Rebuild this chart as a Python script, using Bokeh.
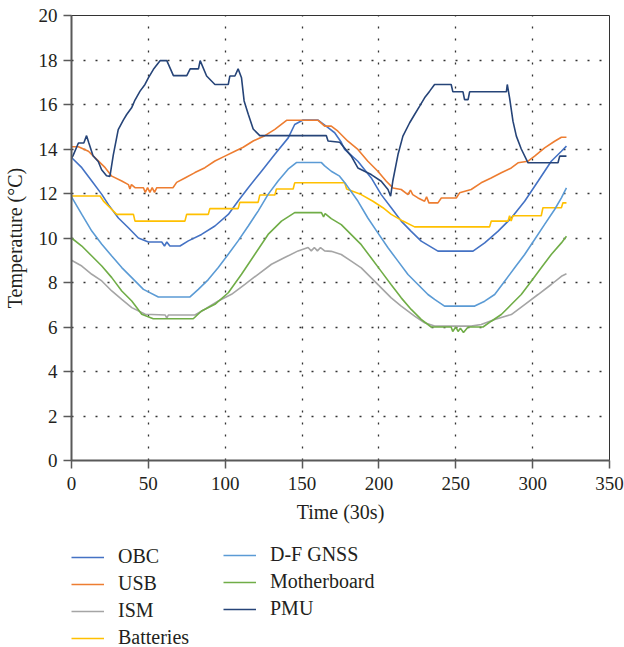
from bokeh.plotting import figure
from bokeh.models import Legend, LegendItem, Range1d, FixedTicker
from bokeh.layouts import column
from bokeh.embed import file_html
from bokeh.resources import INLINE

# ---- data (time in 30 s units, temperature in °C) ----
obc = [(0, 13.62), (6.7, 13.16), (13.2, 12.56), (19.7, 11.96), (24, 11.5), (30.5, 10.9),
       (37, 10.46), (43.5, 10.0), (50, 9.82), (58.7, 9.82), (60.5, 9.64), (62, 9.82),
       (64, 9.64), (70.6, 9.64), (76, 9.87), (84.6, 10.16), (93.3, 10.54), (102, 11.06),
       (108.4, 11.66), (115, 12.26), (123.6, 13.0), (132.3, 13.76), (141, 14.5),
       (145.2, 15.1), (150.6, 15.3), (160.4, 15.3), (166.9, 14.96), (171.2, 14.73),
       (175.5, 14.3), (177.7, 13.98), (186.3, 13.45), (195, 12.7), (201.5, 11.95),
       (208, 11.36), (214.5, 10.76), (221, 10.3), (227.5, 9.86), (238.4, 9.41),
       (261.2, 9.41), (268.8, 9.78), (277.4, 10.3), (286.1, 10.9), (294.8, 11.65),
       (303.5, 12.55), (312.1, 13.45), (318.7, 13.9), (322, 14.13)]

usb = [(0, 14.1), (4.5, 14.1), (11, 13.9), (15.4, 13.6), (21.9, 13.16), (26.2, 12.78),
       (32.7, 12.56), (37, 12.4), (38, 12.2), (39, 12.4), (41.3, 12.26), (46.8, 12.26),
       (48, 12.05), (49.5, 12.26), (51, 12.05), (52.5, 12.26), (54, 12.05), (55.5, 12.26),
       (66, 12.26), (68.4, 12.5), (73.8, 12.7), (80.3, 12.94), (86.8, 13.16),
       (93.3, 13.46), (99.8, 13.68), (106.3, 13.9), (111.7, 14.08), (118.2, 14.36),
       (125.8, 14.6), (132.3, 14.88), (139.9, 15.29), (160.4, 15.29), (164.7, 15.03),
       (169, 15.03), (173.3, 14.8), (179.8, 14.35), (186.3, 13.98), (192.8, 13.45),
       (199.3, 13.0), (204.8, 12.55), (209.1, 12.25), (214.5, 12.18), (218.9, 11.95),
       (220.5, 12.15), (222, 11.95), (225.4, 11.8), (229.7, 11.65), (231, 11.85),
       (232.5, 11.58), (238.4, 11.58), (240.6, 11.8), (250.3, 11.8), (252.5, 12.03),
       (260, 12.18), (266.5, 12.48), (273, 12.7), (279.6, 12.93), (286.1, 13.15),
       (290.5, 13.38), (297, 13.45), (301.3, 13.68), (307.8, 14.05), (314.3, 14.35),
       (318.7, 14.53), (322, 14.53)]

ism = [(0, 9.0), (6.7, 8.74), (13.2, 8.37), (19.7, 8.07), (26.2, 7.62), (32.7, 7.24),
       (39.2, 6.87), (48, 6.57), (61, 6.54), (62, 6.4), (63, 6.54), (80.3, 6.54),
       (86.8, 6.8), (95.5, 7.17), (104.1, 7.47), (112.8, 7.92), (121.4, 8.37),
       (130.1, 8.82), (138.7, 9.12), (147.4, 9.42), (153.9, 9.57), (156, 9.42),
       (158, 9.57), (160, 9.42), (162, 9.57), (164.7, 9.42), (169, 9.4), (175.5, 9.26),
       (182, 8.96), (188.5, 8.66), (195, 8.21), (201.5, 7.76), (208, 7.31),
       (214.5, 6.94), (223.2, 6.49), (229.7, 6.19), (236.2, 6.04), (260, 6.04),
       (266.5, 6.11), (275.3, 6.34), (286.1, 6.56), (294.8, 7.01), (303.5, 7.46),
       (312.1, 7.91), (318.7, 8.28), (322, 8.39)]

batteries = [(0, 11.89), (18.6, 11.89), (20.8, 11.66), (25.1, 11.36), (29.4, 11.06),
             (40.3, 11.06), (41.3, 10.76), (73.8, 10.76), (74.9, 11.06), (89, 11.06),
             (90, 11.32), (108.4, 11.32), (109.5, 11.6), (121.4, 11.6), (122.5, 11.93),
             (132.3, 11.93), (133.3, 12.2), (144.2, 12.2), (145.2, 12.48), (177.7, 12.48),
             (179, 12.2), (188.5, 11.95), (196.1, 11.65), (202.6, 11.36), (208, 11.06),
             (215.6, 10.76), (223.2, 10.5), (272, 10.5), (273.1, 10.76), (284, 10.76),
             (285, 11.0), (286, 10.76), (287.2, 11.0), (305.6, 11.0), (306.7, 11.36),
             (318.7, 11.36), (319.7, 11.58), (322, 11.58)]

dfgnss = [(0, 11.85), (6.7, 11.06), (13.2, 10.31), (19.7, 9.72), (26.2, 9.19),
          (32.7, 8.67), (39.2, 8.22), (46.8, 7.69), (56.5, 7.35), (77.1, 7.35),
          (82.5, 7.69), (89, 8.13), (95.5, 8.67), (102, 9.27), (108.4, 9.87),
          (115, 10.54), (121.4, 11.21), (127.9, 11.96), (134.4, 12.56), (140.9, 13.09),
          (146.3, 13.39), (162.6, 13.39), (164.7, 13.24), (169, 13.0), (174.4, 12.78),
          (178.7, 12.4), (186.3, 11.66), (192.8, 10.9), (199.3, 10.23), (205.9, 9.56),
          (212.4, 8.96), (218.9, 8.36), (225.4, 7.91), (231.9, 7.46), (236.2, 7.24),
          (242.7, 6.94), (262.3, 6.94), (268.8, 7.16), (275.3, 7.46), (281.8, 8.06),
          (288.3, 8.66), (294.8, 9.26), (301.3, 9.93), (307.8, 10.61), (314.3, 11.28),
          (318.7, 11.8), (322, 12.25)]

motherboard = [(0, 10.0), (6.7, 9.64), (13.2, 9.19), (19.7, 8.74), (26.2, 8.22),
               (32.7, 7.62), (39.2, 7.17), (45.7, 6.57), (53.2, 6.37), (79.2, 6.37),
               (84.6, 6.72), (93.3, 7.02), (102, 7.54), (110.6, 8.37), (119.3, 9.27),
               (127.9, 10.16), (136.6, 10.76), (145.2, 11.14), (162.6, 11.14),
               (164, 10.95), (165, 11.1), (169, 10.87), (175.5, 10.6), (182, 10.15),
               (188.5, 9.7), (195, 9.1), (201.5, 8.5), (208, 7.9), (214.5, 7.31),
               (221, 6.79), (227.5, 6.34), (234, 6.0), (247, 6.0), (248, 5.8), (250, 6.0),
               (251.5, 5.8), (253, 5.95), (255, 5.75), (258, 6.0), (267.7, 6.0),
               (273.1, 6.26), (279.6, 6.56), (286.1, 7.01), (292.6, 7.46), (299.1, 8.06),
               (305.6, 8.66), (312.1, 9.26), (318.7, 9.78), (322, 10.08)]

pmu = [(0, 13.6), (1, 13.7), (4.5, 14.27), (8, 14.27), (9.8, 14.6), (11.3, 14.27),
       (14, 13.7), (17.4, 13.44), (19.6, 13.07), (22.8, 12.8), (25, 12.77), (27.2, 13.74),
       (30.4, 14.87), (33.7, 15.3), (35.9, 15.55), (39.1, 15.85), (41.3, 16.2),
       (44.6, 16.6), (47.8, 16.9), (50, 17.2), (53.3, 17.58), (57.6, 17.97), (62, 17.97),
       (66.3, 17.3), (75, 17.3), (77.2, 17.6), (82.6, 17.6), (83.7, 17.97), (87.9, 17.28),
       (93.3, 16.9), (102, 16.9), (103, 17.28), (106.3, 17.28), (108.4, 17.6),
       (110.6, 17.2), (112.3, 16.16), (115, 15.56), (118.2, 14.9), (122.5, 14.6),
       (165.8, 14.6), (166.9, 14.36), (174.5, 14.3), (182, 13.68), (186.3, 13.15),
       (195, 12.85), (201.5, 12.55), (205.9, 12.18), (207.6, 11.88), (209, 12.55),
       (212.4, 13.75), (215.6, 14.58), (220, 15.18), (223.2, 15.55), (226.5, 15.93),
       (229.7, 16.3), (233, 16.6), (236.2, 16.9), (247, 16.9), (248.1, 16.57),
       (254.7, 16.57), (255.7, 16.22), (258, 16.22), (259, 16.57), (282.9, 16.57),
       (283.5, 16.9), (285, 16.3), (287.2, 15.25), (289.4, 14.58), (292.6, 14.0),
       (297, 13.38), (316.5, 13.38), (317.6, 13.68), (322, 13.68)]

series_names = ["OBC", "USB", "ISM", "Batteries", "D-F GNSS", "Motherboard", "PMU"]
series_data = [obc, usb, ism, batteries, dfgnss, motherboard, pmu]
series_colors = ["#4472C4", "#ED7D31", "#A5A5A5", "#FFC000", "#5B9BD5", "#70AD47", "#264478"]

x_ticks = [0, 50, 100, 150, 200, 250, 300, 350]
y_ticks = [0, 2, 4, 6, 8, 10, 12, 14, 16, 18, 20]

FONT = "Liberation Serif"
AXIS_COLOR = "#595959"
TEXT_COLOR = "#231f20"
LINE_W = 1.6

# ---------------- main chart ----------------
p = figure(width=624, height=535, output_backend="svg", toolbar_location=None,
           x_range=Range1d(0, 350), y_range=Range1d(0, 20),
           min_border_left=70, min_border_right=15, min_border_top=15, min_border_bottom=75)

p.background_fill_color = "white"
p.border_fill_color = "white"
p.outline_line_color = "#333333"
p.outline_line_width = 1

for ax in (p.xaxis[0], p.yaxis[0]):
    ax.axis_line_color = AXIS_COLOR
    ax.axis_line_width = 2
    ax.major_tick_line_color = AXIS_COLOR
    ax.major_tick_line_width = 1.5
    ax.major_tick_out = 8
    ax.major_tick_in = 0
    ax.minor_tick_line_color = None
    ax.major_label_text_font = FONT
    ax.major_label_text_font_size = "19px"
    ax.major_label_text_color = TEXT_COLOR
    ax.axis_label_text_font = FONT
    ax.axis_label_text_font_size = "20px"
    ax.axis_label_text_font_style = "normal"
    ax.axis_label_text_color = TEXT_COLOR

p.xaxis.ticker = FixedTicker(ticks=x_ticks)
p.yaxis.ticker = FixedTicker(ticks=y_ticks)
p.xaxis.axis_label = "Time (30s)"
p.yaxis.axis_label = "Temperature (°C)"
p.xaxis.major_label_standoff = 8
p.xaxis.axis_label_standoff = 8
p.yaxis.major_label_standoff = 6
p.yaxis.axis_label_standoff = 10

for g, ticks in ((p.xgrid, x_ticks[1:-1]), (p.ygrid, y_ticks[1:-1])):
    g.ticker = FixedTicker(ticks=ticks)
    g.grid_line_color = "#333333"
    g.grid_line_width = 1.3
    g.grid_line_dash = "2 10"

for name, data, color in zip(series_names, series_data, series_colors):
    xs = [d[0] for d in data]
    ys = [d[1] for d in data]
    p.line(xs, ys, line_color=color, line_width=LINE_W)

# ---------------- legend strip below ----------------
lg = figure(width=624, height=112, output_backend="svg", toolbar_location=None,
            x_range=Range1d(0, 1), y_range=Range1d(0, 1),
            x_axis_type=None, y_axis_type=None,
            min_border_left=0, min_border_right=0, min_border_top=0, min_border_bottom=0)
lg.outline_line_color = None
lg.xgrid.visible = False
lg.ygrid.visible = False
lg.background_fill_color = "white"
lg.border_fill_color = "white"

# key renderers: placed outside the visible range, only their legend glyphs show
keys = [lg.line([-5, -4], [-5, -5], line_color=c, line_width=LINE_W) for c in series_colors]

def make_legend(idx, loc):
    return Legend(items=[LegendItem(label=series_names[i], renderers=[keys[i]]) for i in idx],
                  location=loc, orientation="vertical",
                  glyph_width=33, glyph_height=20, label_height=20, spacing=4,
                  label_standoff=14, padding=0, margin=0,
                  border_line_color=None, background_fill_alpha=0,
                  label_text_font=FONT, label_text_font_size="20px",
                  label_text_color=TEXT_COLOR)

lg.add_layout(make_legend([0, 1, 2, 3], (0, -2)))
lg.add_layout(make_legend([4, 5, 6], (152, 27)))

layout = column(p, lg, spacing=0)
open("out.html", "w").write(file_html(layout, INLINE))
